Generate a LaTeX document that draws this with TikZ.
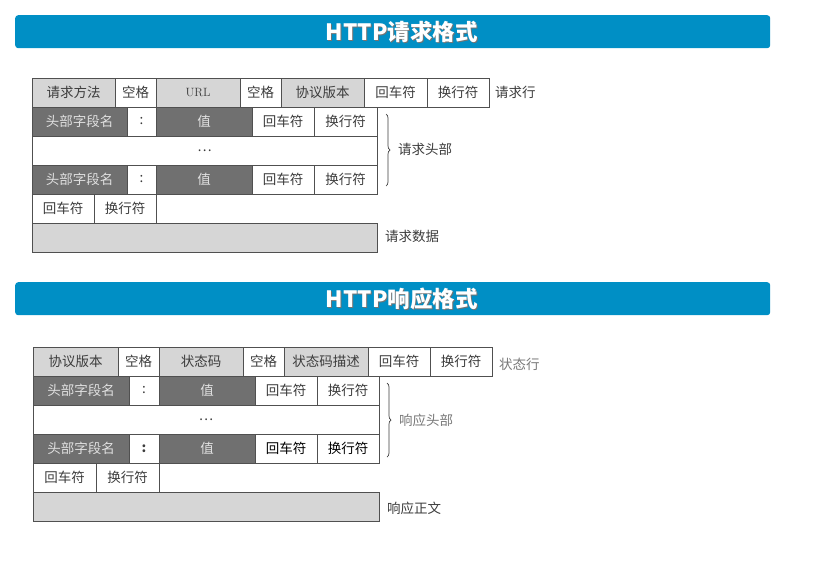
\documentclass[tikz,border=0pt]{standalone}
\usepackage{fontspec}
\newfontfamily\cjk{Noto Sans CJK SC}
\usetikzlibrary{decorations.pathreplacing}
\definecolor{barblue}{RGB}{0,143,197}
\definecolor{cellline}{RGB}{80,80,80}
\definecolor{cellpale}{RGB}{214,214,214}
\definecolor{celldark}{RGB}{112,112,112}
\definecolor{txtdark}{RGB}{60,60,60}
\definecolor{txtsoft}{RGB}{120,120,120}
\tikzset{
  cell/.style={draw=cellline, line width=0.9pt, minimum height=29pt, inner sep=0pt,
    outer sep=0pt, anchor=north west, text=txtdark,
    font=\cjk\fontsize{13.5}{16}\selectfont},
  pale/.style={cell, fill=cellpale},
  dark/.style={cell, fill=celldark, text=white!88!black},
  plain/.style={cell, fill=white},
  banner/.style={fill=barblue, rounded corners=3pt, minimum width=755pt,
    minimum height=33pt, anchor=north west, inner sep=0pt},
  title/.style={text=white, font=\cjk\bfseries\fontsize{22.5}{26}\selectfont},
  side/.style={anchor=west, inner sep=0pt, text=txtdark,
    font=\cjk\fontsize{13.5}{16}\selectfont},
  bracket/.style={draw=txtdark, line width=0.7pt,
    decorate, decoration={brace, amplitude=4pt}}
}
\begin{document}
\begin{tikzpicture}[x=1pt, y=-1pt]
  \useasboundingbox (0,0) rectangle (826,573);
  % Request title bar
  \node[banner] (rqbar) at (15,15) {};
  \node[title, text=black!55] (rqshadow) at ([xshift=10pt,yshift=-1.2pt]rqbar.center) {HTTP请求格式};
  \node[title] (rqtitle) at ([xshift=9pt]rqbar.center) {HTTP请求格式};
  % Request line
  \node[pale, minimum width=83pt] (rqmethod) at (32,78) {请求方法};
  \node[plain, minimum width=41pt] (rqsp1) at (rqmethod.north east) {空格};
  \node[pale, minimum width=84pt] (rqurl) at (rqsp1.north east) {\rmfamily\fontsize{12}{14}\selectfont URL};
  \node[plain, minimum width=41pt] (rqsp2) at (rqurl.north east) {空格};
  \node[pale, minimum width=83pt] (rqver) at (rqsp2.north east) {协议版本};
  \node[plain, minimum width=63pt] (rqcr) at (rqver.north east) {回车符};
  \node[plain, minimum width=62pt] (rqlf) at (rqcr.north east) {换行符};
  \node[side] (rqline) at (495,92) {请求行};
  % Request headers
  \node[dark, minimum width=95pt] (rqname1) at (rqmethod.south west) {头部字段名};
  \node[plain, minimum width=29pt] (rqcolon1) at (rqname1.north east) {:};
  \node[dark, minimum width=96pt] (rqval1) at (rqcolon1.north east) {值};
  \node[plain, minimum width=62pt] (rqhcr1) at (rqval1.north east) {回车符};
  \node[plain, minimum width=63pt] (rqhlf1) at (rqhcr1.north east) {换行符};
  \node[plain, minimum width=345pt] (rqdots) at (rqname1.south west) {…};
  \node[dark, minimum width=95pt] (rqname2) at (rqdots.south west) {头部字段名};
  \node[plain, minimum width=29pt] (rqcolon2) at (rqname2.north east) {:};
  \node[dark, minimum width=96pt] (rqval2) at (rqcolon2.north east) {值};
  \node[plain, minimum width=62pt] (rqhcr2) at (rqval2.north east) {回车符};
  \node[plain, minimum width=63pt] (rqhlf2) at (rqhcr2.north east) {换行符};
  \draw[bracket] ([xshift=9pt,yshift=-7pt]rqhlf1.north east) -- ([xshift=9pt,yshift=8pt]rqhlf2.south east);
  \node[side] (rqhead) at (398,149) {请求头部};
  % Empty line and body
  \node[plain, minimum width=62pt] (rqecr) at (rqname2.south west) {回车符};
  \node[plain, minimum width=62pt] (rqelf) at (rqecr.north east) {换行符};
  \node[pale, minimum width=345pt] (rqbody) at (rqecr.south west) {};
  \node[side] (rqdata) at (385,236) {请求数据};

  % Response title bar
  \node[banner] (rsbar) at (15,282) {};
  \node[title, text=black!55] (rsshadow) at ([xshift=10pt,yshift=-1.2pt]rsbar.center) {HTTP响应格式};
  \node[title] (rstitle) at ([xshift=9pt]rsbar.center) {HTTP响应格式};
  % Status line
  \node[pale, minimum width=85pt] (rsver) at (33,347) {协议版本};
  \node[plain, minimum width=41pt] (rssp1) at (rsver.north east) {空格};
  \node[pale, minimum width=84pt] (rscode) at (rssp1.north east) {状态码};
  \node[plain, minimum width=41pt] (rssp2) at (rscode.north east) {空格};
  \node[pale, minimum width=84pt] (rsdesc) at (rssp2.north east) {状态码描述};
  \node[plain, minimum width=62pt] (rscr) at (rsdesc.north east) {回车符};
  \node[plain, minimum width=62pt] (rslf) at (rscr.north east) {换行符};
  \node[side, text=txtsoft] (rsline) at (499,364) {状态行};
  % Response headers
  \node[dark, minimum width=96pt] (rsname1) at (rsver.south west) {头部字段名};
  \node[plain, minimum width=30pt] (rscolon1) at (rsname1.north east) {:};
  \node[dark, minimum width=96pt] (rsval1) at (rscolon1.north east) {值};
  \node[plain, minimum width=62pt] (rshcr1) at (rsval1.north east) {回车符};
  \node[plain, minimum width=62pt] (rshlf1) at (rshcr1.north east) {换行符};
  \node[plain, minimum width=346pt] (rsdots) at (rsname1.south west) {…};
  \node[dark, minimum width=96pt] (rsname2) at (rsdots.south west) {头部字段名};
  \node[plain, minimum width=30pt] (rscolon2) at (rsname2.north east) {\textbf{:}};
  \node[dark, minimum width=96pt] (rsval2) at (rscolon2.north east) {值};
  \node[plain, minimum width=62pt, text=black] (rshcr2) at (rsval2.north east) {回车符};
  \node[plain, minimum width=62pt, text=black] (rshlf2) at (rshcr2.north east) {换行符};
  \draw[bracket] ([xshift=8pt,yshift=-7pt]rshlf1.north east) -- ([xshift=8pt,yshift=6pt]rshlf2.south east);
  \node[side, text=txtsoft] (rshead) at (399,420) {响应头部};
  % Empty line and body
  \node[plain, minimum width=63pt] (rsecr) at (rsname2.south west) {回车符};
  \node[plain, minimum width=63pt] (rself) at (rsecr.north east) {换行符};
  \node[pale, minimum width=346pt] (rsbody) at (rsecr.south west) {};
  \node[side] (rstext) at (387,508) {响应正文};
\end{tikzpicture}
\end{document}
